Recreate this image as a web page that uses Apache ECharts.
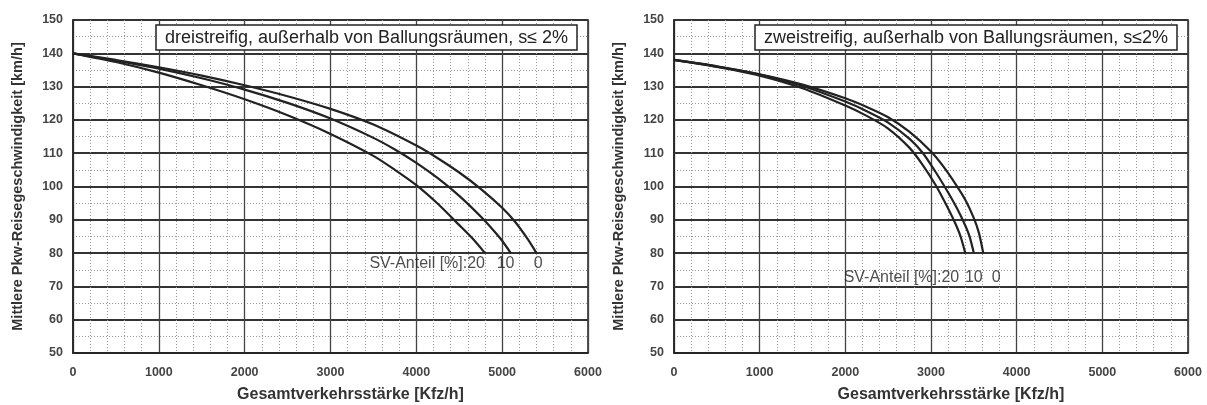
<!DOCTYPE html>
<html lang="de">
<head>
    <meta charset="utf-8" />
    <title>Pkw-Reisegeschwindigkeit</title>
    <script type="text/javascript" src="https://cdn.jsdelivr.net/npm/echarts@6/dist/echarts.min.js"></script>
    <style type="text/css">
        html, body { margin: 0; padding: 0; background: #fff; }
    </style>
</head>
<body>
    <div id="main" style="width:1207px;height:405px;"></div>
    <script type="text/javascript">

        // dreistreifig (links), Punkte [Kfz/h, km/h]
        var drei_sv0  = [[0,140],[500,138],[1000,135.8],[1500,133.3],[2000,130.4],[2500,127.1],[3000,123.3],[3500,118.6],[4000,112.3],[4250,108.5],[4500,104.2],[4750,99.3],[5000,93.6],[5150,89.4],[5300,84.1],[5400,80]];
        var drei_sv10 = [[0,140],[500,137.8],[1000,135.4],[1500,132.5],[2000,129.1],[2500,125.1],[3000,120.4],[3500,114.6],[3750,111.1],[4000,107.1],[4250,102.5],[4500,97.2],[4750,91],[4900,86.8],[5000,83.7],[5100,80]];
        var drei_sv20 = [[0,140],[500,137.4],[1000,134.2],[1500,130.4],[2000,126.2],[2500,121.4],[3000,115.8],[3500,109.2],[3750,105],[4000,100.4],[4250,94.8],[4500,88.4],[4650,84.5],[4800,80]];

        // zweistreifig (rechts)
        var zwei_sv0  = [[0,138],[500,136.1],[1000,133.7],[1500,130.6],[2000,126.5],[2250,123.9],[2500,120.8],[2750,116.4],[3000,110.5],[3150,105.8],[3300,100.2],[3400,96],[3500,90.5],[3560,86],[3610,80]];
        var zwei_sv10 = [[0,138],[500,136],[1000,133.6],[1500,130.2],[2000,125.5],[2250,122.6],[2500,119.2],[2750,114.3],[2900,110.2],[3050,104.5],[3200,98.2],[3300,93.6],[3400,88.3],[3450,85],[3500,80]];
        var zwei_sv20 = [[0,138],[500,135.9],[1000,133.3],[1500,129.5],[2000,124.3],[2250,121.2],[2500,117.4],[2750,111.6],[2900,106.6],[3050,100.6],[3200,93.4],[3300,88],[3350,84.6],[3400,80]];

        var titles = ['dreistreifig, außerhalb von Ballungsräumen, s\u2264 2%', 'zweistreifig, außerhalb von Ballungsräumen, s\u22642%'];
        var xName = 'Gesamtverkehrsstärke [Kfz/h]';
        var yName = 'Mittlere Pkw-Reisegeschwindigkeit [km/h]';

        // Beschriftung "SV-Anteil" [x, y, text, ausrichtung]
        var drei_labels = [[4800, 76.8, 'SV-Anteil [%]:20', 'right'], [5040, 76.8, '10', 'center'], [5420, 76.8, '0', 'center']];
        var zwei_labels = [[3330, 72.6, 'SV-Anteil [%]:20', 'right'], [3500, 72.6, '10', 'center'], [3760, 72.6, '0', 'center']];

        var myChart = echarts.init(document.getElementById('main'));
        var lineColor = '#222';
        var font = 'Liberation Sans, Arial, sans-serif';

        function makeX(idx) {
            return {
                type: 'value', gridIndex: idx, min: 0, max: 6000, interval: 1000,
                name: xName, nameLocation: 'middle', nameGap: 34,
                nameTextStyle: { fontFamily: font, fontSize: 16, fontWeight: 'bold', color: '#333', padding: [0, 0, 0, 40] },
                axisLine: { lineStyle: { color: '#222', width: 1.5 } },
                axisTick: { show: false },
                axisLabel: { fontFamily: font, fontSize: 12.5, fontWeight: 'bold', color: '#444', margin: 13,
                             formatter: function (v) { return String(v); } },
                splitLine: { lineStyle: { color: '#444', width: 1.3 } },
                minorTick: { show: false, splitNumber: 5 },
                minorSplitLine: { show: true, lineStyle: { color: '#999', type: [1, 2], width: 1 } }
            };
        }
        function makeY(idx) {
            return {
                type: 'value', gridIndex: idx, min: 50, max: 150, interval: 10,
                name: yName, nameLocation: 'middle', nameGap: 48, nameRotate: 90,
                nameTextStyle: { fontFamily: font, fontSize: 14.5, fontWeight: 'bold', color: '#333' },
                axisLine: { show: true, lineStyle: { color: '#222', width: 1.5 } },
                axisTick: { show: false },
                axisLabel: { fontFamily: font, fontSize: 12.5, fontWeight: 'bold', color: '#444', margin: 10 },
                splitLine: { lineStyle: { color: '#333', width: 1.8 } },
                minorTick: { show: false, splitNumber: 2 },
                minorSplitLine: { show: true, lineStyle: { color: '#999', type: [1, 2], width: 1 } }
            };
        }
        function curve(data, idx) {
            return {
                type: 'line', xAxisIndex: idx, yAxisIndex: idx, data: data,
                smooth: 0.25, showSymbol: false, symbol: 'none',
                lineStyle: { color: lineColor, width: 2.2 }, z: 3
            };
        }
        function labels(list, idx) {
            return {
                type: 'scatter', xAxisIndex: idx, yAxisIndex: idx, symbolSize: 0, z: 4,
                data: list.map(function (d) {
                    return {
                        value: [d[0], d[1]],
                        label: { show: true, position: 'inside', formatter: d[2], align: d[3],
                                 fontFamily: font, fontSize: 16, color: '#222' }
                    };
                })
            };
        }
        function titleBox(text, left) {
            return {
                text: text, left: left, top: 25, padding: [4, 9, 3, 9],
                itemGap: 0, backgroundColor: '#fff', borderColor: '#222', borderWidth: 1.5,
                textStyle: { fontFamily: font, fontSize: 18, fontWeight: 'normal', color: '#222' }
            };
        }

        var option = {
            animation: false,
            backgroundColor: '#fff',
            title: [titleBox(titles[0], 156), titleBox(titles[1], 755)],
            grid: [
                { left: 73, right: 619, top: 20, bottom: 52, show: true, borderColor: '#222', borderWidth: 1.5, outerBoundsMode: 'none', containLabel: false },
                { left: 674, right: 19, top: 20, bottom: 52, show: true, borderColor: '#222', borderWidth: 1.5, outerBoundsMode: 'none', containLabel: false }
            ],
            xAxis: [makeX(0), makeX(1)],
            yAxis: [makeY(0), makeY(1)],
            series: [
                curve(drei_sv0, 0), curve(drei_sv10, 0), curve(drei_sv20, 0), labels(drei_labels, 0),
                curve(zwei_sv0, 1), curve(zwei_sv10, 1), curve(zwei_sv20, 1), labels(zwei_labels, 1)
            ]
        };
        myChart.setOption(option);
    </script>
</body>
</html>
